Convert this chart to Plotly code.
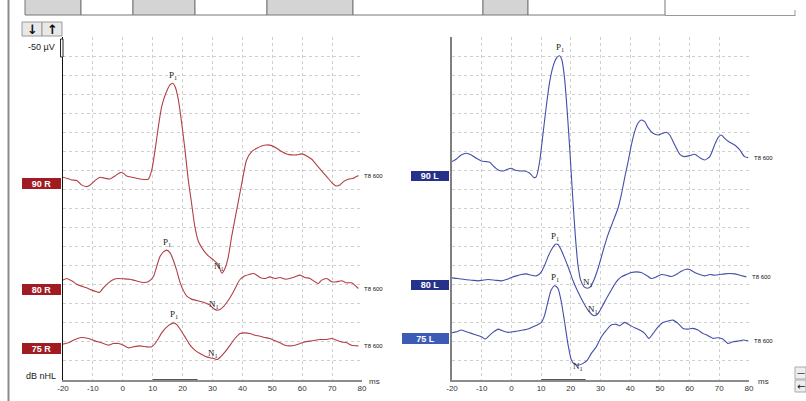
import plotly.graph_objects as go

W, H = 806, 401

# ---------------- data (latency in ms, amplitude in µV, 50 µV per grid division) -------------
t_90R = [-20.0,-18.8,-17.1,-15.4,-13.8,-12.1,-11.0,-9.3,-7.6,-6.0,-4.3,-2.6,-0.9,0.2,1.3,3.0,4.6,6.3,8.5,9.7,
         10.8,11.9,13.0,14.4,15.8,16.7,17.5,18.6,19.7,20.8,21.9,23.0,24.1,25.3,26.9,28.6,30.3,32.0,33.1,34.2,
         35.3,36.4,38.1,39.8,41.4,43.1,44.8,46.4,48.1,49.8,51.5,53.1,54.8,56.5,58.1,59.8,61.5,63.2,64.8,66.5,
         68.2,69.9,71.3,72.6,73.8,75.4,77.1,78.8]
a_90R = [0,-2.6,-7,-8.7,-20,-24.5,-21,-8.7,0,-2.6,-4.4,3.5,12.2,10.5,3.5,0,-2.6,-5.2,-5.2,19.2,
         71.7,132.9,185.3,220.2,242.1,246.5,237.7,202.8,141.6,71.7,-7,-68.2,-129.4,-168.7,-190.5,-206.3,-216.8,-229.9,-251.7,-238.6,
         -208,-155.6,-85.7,-15.7,45.4,67.3,76,82.2,84.8,83,76,67.3,61.2,58.6,58.6,61.2,55.9,47.2,32.3,16.6,
         1.7,-14,-22.7,-20.1,-11.4,-5.2,-2.6,4.4]

t_80R = [-20.0,-18.8,-17.1,-15.4,-13.8,-12.1,-10.4,-8.7,-7.8,-6.5,-4.8,-3.1,-1.5,0.2,1.9,3.6,5.2,6.9,8.5,10.2,
         11.3,12.4,13.6,14.7,15.8,16.9,18.0,19.1,20.2,21.4,23.0,24.7,26.4,28.0,29.2,30.3,31.4,32.5,33.6,34.7,
         35.9,37.0,38.1,39.2,40.9,42.5,43.7,44.8,45.9,47.6,49.2,50.9,52.6,54.2,55.9,57.6,59.3,60.9,62.6,64.3,
         65.4,66.5,68.2,69.9,71.5,73.2,74.9,76.5,78.8]
a_80R = [0,4.4,-1.7,-10.5,-15.7,-20.1,-26.2,-30.6,-32.3,-20.1,-7,1.7,4.4,3.5,2.6,0,-3.5,-6.1,-4.4,8.7,
         35,61.2,74.3,78.7,71.7,52.4,26.2,-4.4,-26.2,-42,-49.8,-53.3,-56.8,-61.2,-65.6,-74.3,-78.7,-76.9,-69.9,-59.4,
         -45.4,-30.6,-13.1,1.7,11.4,15.7,17.5,13.1,7,4.4,8.7,4.4,7,2.6,4.4,8.7,13.1,7,4.4,-4.4,
         -8.7,0,4.4,-4.4,-4.4,-1.7,-7,-7,-21.9]

t_75R = [-20.0,-18.2,-16.0,-13.8,-11.5,-9.3,-7.1,-4.8,-3.2,-1.5,0.2,1.9,3.5,5.8,8.0,9.7,10.8,11.9,13.0,14.4,
         15.8,17.1,18.2,19.4,20.8,22.5,24.1,25.8,27.5,29.2,30.5,31.6,32.7,34.2,35.9,37.5,39.2,40.9,42.5,44.2,
         45.9,47.6,49.2,50.9,52.6,54.2,55.9,57.6,59.3,60.9,62.6,64.3,66.0,68.2,69.9,71.5,73.2,74.9,76.5,78.8]
a_75R = [0,3.5,12.2,17.5,14.9,8.7,3.5,-2.6,1.7,1.7,-2.6,-9.6,-7,-4.4,-7,-7,1.7,14.9,29.7,42.8,
         51.6,55.9,49.8,36.7,19.2,-2.6,-15.7,-24.5,-31.5,-35.8,-37.6,-40.2,-33.2,-20.1,-2.6,14.9,28,29.7,28,23.6,
         21,17.5,14.9,8.7,3.5,-2.6,-4.4,-2.6,1.7,6.1,7.9,10.5,12.2,12.2,14.9,10.5,6.1,3.5,-2.6,-4.4]

t_90L = [-20.0,-18.5,-16.9,-15.2,-13.5,-11.8,-10.1,-8.4,-7.3,-6.2,-4.5,-2.8,-1.1,0.0,1.1,2.8,4.5,6.2,7.6,8.4,
         9.5,10.6,11.8,12.9,14.0,15.1,16.2,17.0,17.9,18.8,19.7,20.6,21.5,22.4,23.3,24.4,25.6,26.7,27.8,29.2,
         30.8,32.5,34.2,35.9,37.0,38.1,39.3,40.4,41.5,42.6,43.7,44.9,46.0,47.7,49.4,51.0,52.2,53.3,55.0,56.7,
         58.3,60.0,61.7,63.4,65.1,66.8,68.4,69.6,70.7,71.8,73.5,75.2,76.9,78.5,79.7]
a_90L = [0,7,17.5,21.9,17.5,8.7,1.7,0,-1.7,-10.5,-21.9,-24.5,-19.2,-17.5,-21.9,-24.5,-24.5,-30.6,-42,-39.3,
         0,69.9,148.6,209.8,249.1,270.9,277.9,266.6,218.5,131.1,26.2,-87.4,-192.3,-270.9,-310.3,-327.8,-332.1,-327.8,-310.3,-279.7,
         -236,-192.3,-157.3,-122.4,-87.4,-43.7,0,43.7,78.7,100.5,109.3,104.9,89.1,74.3,69.9,74.3,76.9,69.9,43.7,19.2,
         13.1,15.7,19.2,10.5,4.4,13.1,43.7,62.9,69.9,61.2,50.7,43.7,30.6,13.1,10.5]

t_80L = [-20.0,-18.0,-15.7,-13.5,-11.2,-9.6,-7.9,-5.6,-3.4,-1.7,0.0,1.7,3.3,5.0,6.7,8.4,9.9,11.2,12.3,13.7,
         14.8,15.7,16.8,17.9,19.3,20.7,22.4,24.1,25.8,27.1,28.0,29.2,30.5,32.0,33.6,35.3,37.0,38.7,40.4,42.1,
         43.7,45.4,47.1,48.8,50.5,52.2,53.8,55.5,57.2,58.9,60.0,61.7,63.4,65.1,66.8,68.4,70.1,71.8,73.5,75.2,
         76.9,79.1]
a_80L = [0,-1.7,-4.4,-6.1,-7.9,-6.1,-4.4,-6.1,-7.9,-4.4,0.9,5.2,8.7,10.5,7,5.2,14,33.2,55.1,76.9,
         88.3,87.4,72.5,52.4,24.5,-6.1,-36.7,-62.9,-84.8,-96.1,-99.6,-93.5,-76,-54.2,-32.3,-10.5,2.6,8.7,14,15.7,
         14,7,-1.7,2.6,8.7,7,3.5,8.7,17.5,22.7,21.9,14,8.7,5.2,8.7,7,8.7,10.5,11.4,10.5,
         7,2.6]

t_75L = [-20.0,-18.5,-16.9,-15.2,-13.5,-11.8,-10.1,-8.8,-7.3,-5.6,-4.5,-2.8,-1.1,0.5,2.2,3.9,5.6,7.3,9.0,10.1,
         11.2,12.3,13.4,14.6,15.7,16.8,17.9,19.1,20.2,21.3,22.6,24.1,25.6,26.9,28.6,30.3,32.0,33.6,35.3,36.5,
         38.1,39.8,41.5,43.2,44.9,46.3,47.7,49.4,51.0,52.7,54.4,56.1,57.8,59.5,61.1,62.8,64.5,66.2,67.9,69.6,
         71.2,72.9,74.6,76.3,78.0,79.7]
a_75L = [0,2.6,7,2.6,-1.7,-6.1,-10.5,-16.6,-6.1,4.4,9.6,4.4,0.9,2.6,4.4,7,9.6,15.7,21.9,27.1,
         46.3,81.3,111.9,123.2,116.2,81.3,28.8,-32.3,-71.7,-83,-84.8,-80.4,-71.7,-54.2,-36.7,-10.5,7,20.1,21.9,18.4,
         27.1,20.1,13.1,7,-1.7,-14.9,-1.7,15.7,27.1,30.6,33.2,24.5,11.4,9.6,11.4,7,-1.7,-7.9,-14.9,-13.1,
         -16.6,-28,-23.6,-21.9,-19.2,-21]

# trace baselines (µV on the stacked display) and labels
labels_R = ["90 R", "80 R", "75 R"]
labels_L = ["90 L", "80 L", "75 L"]
base_R = [532, 262, 94]
base_L = [573, 268, 124]
stim_label = "T8 600"
x_ticks = [-20, -10, 0, 10, 20, 30, 40, 50, 60, 70, 80]

RED = "#b23f44"
BLUE = "#434eab"
RED_BOX = "#a11c22"
NAVY_BOX = "#26328a"
LBLUE_BOX = "#3b5bb5"

def px(x):
    return x / W

def py(y):
    return 1 - y / H

def ptext(x, y, text, size=9, color="#222", family="Liberation Sans", xanchor="center", **kw):
    d = dict(x=px(x), y=py(y), xref="paper", yref="paper", text=text, showarrow=False,
             xanchor=xanchor, yanchor="middle", font=dict(family=family, size=size, color=color))
    d.update(kw)
    return d

fig = go.Figure()

right_series = [(t_90R, a_90R), (t_80R, a_80R), (t_75R, a_75R)]
left_series = [(t_90L, a_90L), (t_80L, a_80L), (t_75L, a_75L)]

annotations = []
shapes = []

n1_shift_R = [(-3, 7), (-3, 6), (-4, 6)]
n1_shift_L = [(1, 6), (-2, 6), (-1, -1)]

for panel, series, bases, color, nshift in (
    (1, right_series, base_R, RED, n1_shift_R),
    (2, left_series, base_L, BLUE, n1_shift_L),
):
    xa = "x" if panel == 1 else "x2"
    ya = "y" if panel == 1 else "y2"
    for (t, a), b, ns in zip(series, bases, nshift):
        y = [b + v for v in a]
        fig.add_trace(go.Scatter(x=t, y=y, mode="lines", xaxis=xa, yaxis=ya,
                                 line=dict(color=color, width=1.1, shape="spline", smoothing=0.6),
                                 hoverinfo="skip", showlegend=False))
        ip = max(range(len(a)), key=lambda i: a[i])
        iN = min(range(len(a)), key=lambda i: a[i])
        annotations.append(dict(x=t[ip], y=y[ip], xref=xa, yref=ya, text="P<sub>1</sub>",
                                showarrow=False, yshift=8, xanchor="center", yanchor="middle",
                                font=dict(family="Liberation Serif", size=9, color="#222")))
        annotations.append(dict(x=t[iN], y=y[iN], xref=xa, yref=ya, text="N<sub>1</sub>",
                                showarrow=False, xshift=ns[0], yshift=ns[1], xanchor="center", yanchor="middle",
                                font=dict(family="Liberation Serif", size=9, color="#222")))
        annotations.append(dict(x=t[-1], y=y[-1], xref=xa, yref=ya, text=stim_label,
                                showarrow=False, xshift=4, xanchor="left", yanchor="middle",
                                font=dict(family="Liberation Sans", size=6, color="#111")))

# level label boxes (pixel layout)
box_R = [(22, 61, 178, 189), (22, 61, 284, 295), (22, 61, 343, 354)]
box_L = [(411, 449, 171, 181), (411, 449, 280, 290), (402, 449, 333, 344)]
fill_L = [NAVY_BOX, NAVY_BOX, LBLUE_BOX]
for (x0, x1, y0, y1), lab in zip(box_R, labels_R):
    annotations.append(ptext((x0 + x1) / 2, (y0 + y1) / 2, "<b>" + lab + "</b>", color="white",
                             bgcolor=RED_BOX, width=x1 - x0, height=y1 - y0, borderpad=0, borderwidth=0))
for (x0, x1, y0, y1), lab, fc in zip(box_L, labels_L, fill_L):
    annotations.append(ptext((x0 + x1) / 2, (y0 + y1) / 2, "<b>" + lab + "</b>", color="white",
                             bgcolor=fc, width=x1 - x0, height=y1 - y0, borderpad=0, borderwidth=0))

# latency window marks under the axes
for xa in ("x", "x2"):
    shapes.append(dict(type="line", xref=xa, yref="y" if xa == "x" else "y2", x0=10, x1=25, y0=0, y1=0,
                       line=dict(color="#555", width=2)))

# "ms" and other texts
annotations += [
    ptext(367, 381, "ms", size=8, color="#333", xanchor="left"),
    ptext(756, 381, "ms", size=8, color="#333", xanchor="left"),
    ptext(58, 376, "dB nHL", size=9, xanchor="right"),
    ptext(57, 47, "-50 µV", size=9, xanchor="right"),
    ptext(32, 29, "<b>↓</b>", size=13, color="#111", family="DejaVu Sans"),
    ptext(52, 29, "<b>↑</b>", size=13, color="#111", family="DejaVu Sans"),
    ptext(800.5, 373, "—", size=8, color="#111", family="DejaVu Sans"),
    ptext(800.5, 386, "←", size=10, color="#111", family="DejaVu Sans"),
]

# scale bracket, buttons, frame pieces
shapes += [
    dict(type="rect", xref="paper", yref="paper", x0=px(60.5), x1=px(63), y0=py(57), y1=py(39),
         line=dict(color="#222", width=1), fillcolor="white"),
    dict(type="rect", xref="paper", yref="paper", x0=px(22), x1=px(42), y0=py(36), y1=py(22),
         line=dict(color="#9a9a9a", width=1), fillcolor="#e8e8e8", layer="below"),
    dict(type="rect", xref="paper", yref="paper", x0=px(42), x1=px(62), y0=py(36), y1=py(22),
         line=dict(color="#9a9a9a", width=1), fillcolor="#e8e8e8", layer="below"),
    dict(type="line", xref="paper", yref="paper", x0=px(8.5), x1=px(8.5), y0=0, y1=1,
         line=dict(color="#8c8c8c", width=2)),
    dict(type="rect", xref="paper", yref="paper", x0=px(795), x1=px(806), y0=py(379), y1=py(367),
         line=dict(color="#aaa", width=1), fillcolor="#eeeeee", layer="below"),
    dict(type="rect", xref="paper", yref="paper", x0=px(795), x1=px(806), y0=py(392), y1=py(380),
         line=dict(color="#aaa", width=1), fillcolor="#eeeeee", layer="below"),
]
# top toolbar strip
cells = [(25, 81, "#d4d4d4"), (81, 133, "white"), (133, 195, "#d4d4d4"), (195, 267, "white"),
         (267, 353, "#d4d4d4"), (353, 483, "white"), (483, 528, "#d4d4d4"), (528, 665, "white")]
for x0, x1, c in cells:
    shapes.append(dict(type="rect", xref="paper", yref="paper", x0=px(x0), x1=px(x1), y0=py(15), y1=py(-2),
                       line=dict(color="#777", width=1), fillcolor=c))
shapes.append(dict(type="line", xref="paper", yref="paper", x0=px(665), x1=px(795), y0=py(15.5), y1=py(15.5),
                   line=dict(color="#999", width=1)))
shapes.append(dict(type="line", xref="paper", yref="paper", x0=px(795), x1=px(795), y0=py(16), y1=py(10),
                   line=dict(color="#999", width=1)))

axis_common = dict(range=[-20, 80], tickvals=x_ticks, ticktext=[str(v) for v in x_ticks],
                   showgrid=True, gridcolor="#cfcfcf", griddash="dot", gridwidth=1, automargin=False,
                   showline=True, linecolor="#8c8c8c", linewidth=1.5, ticks="", zeroline=False,
                   tickfont=dict(family="Liberation Sans", size=8, color="#333"), fixedrange=True)
yaxis_common = dict(range=[0, 900], dtick=50, tick0=0, showticklabels=False, showgrid=True, automargin=False,
                    gridcolor="#cfcfcf", griddash="dot", gridwidth=1, zeroline=False, ticks="",
                    showline=True, fixedrange=True, domain=[py(380), py(37)])

fig.update_layout(
    width=W, height=H, margin=dict(l=0, r=0, t=0, b=0, autoexpand=False),
    paper_bgcolor="white", plot_bgcolor="white", showlegend=False,
    xaxis=dict(domain=[px(63), px(362)], anchor="y", **axis_common),
    yaxis=dict(anchor="x", linecolor="#111", linewidth=1, **yaxis_common),
    xaxis2=dict(domain=[px(452), px(749)], anchor="y2", **axis_common),
    yaxis2=dict(anchor="x2", linecolor="#808080", linewidth=1.5, **yaxis_common),
    annotations=annotations, shapes=shapes,
)

fig.write_html("out.html", config={"displayModeBar": False},
               post_script="document.body.style.margin='0';document.body.style.padding='0';"
                           "document.body.style.overflow='hidden';")
